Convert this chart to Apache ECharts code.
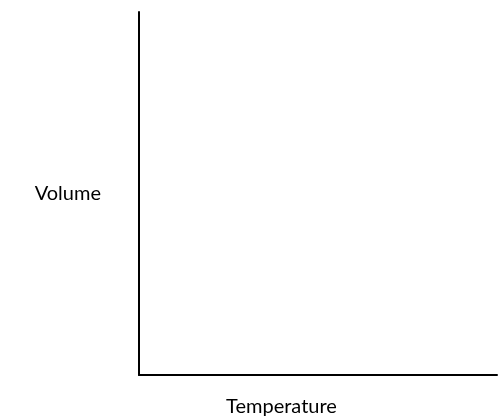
<!DOCTYPE html>
<html>
<head>
<meta charset="utf-8">
<script src="https://cdn.jsdelivr.net/npm/echarts@6/dist/echarts.min.js"></script>
<style>
    html, body {margin: 0; padding: 0; background: #fff;}
    #chart {width: 498px; height: 419px;}
</style>
</head>
<body>
<div id="chart"></div>
<script>
// blank sketch axes, no data plotted
const xName = 'Temperature';
const yName = 'Volume';
const points = [];

const axisStyle = {
    lineStyle: {color: '#000', width: 2}
};

let chart = echarts.init(document.getElementById('chart'));
chart.setOption({
    animation: false,
    grid: {left: 139, top: 12, right: 1, bottom: 44, containLabel: false, outerBoundsMode: 'none'},
    xAxis: {
        type: 'value',
        min: 0,
        max: 10,
        name: xName,
        nameLocation: 'middle',
        nameGap: 22,
        nameTextStyle: {
            color: '#000',
            fontSize: 20,
            fontFamily: 'Lato',
            padding: [0, 73, 0, 0]
        },
        axisLine: axisStyle,
        axisTick: {show: false},
        axisLabel: {show: false},
        splitLine: {show: false}
    },
    yAxis: {
        type: 'value',
        min: 0,
        max: 10,
        name: yName,
        nameLocation: 'middle',
        nameRotate: 0,
        nameGap: 38,
        nameTextStyle: {
            color: '#000',
            fontSize: 20,
            fontFamily: 'Lato',
            align: 'right'
        },
        axisLine: axisStyle,
        axisTick: {show: false},
        axisLabel: {show: false},
        splitLine: {show: false}
    },
    series: [{type: 'line', data: points}]
});
</script>
</body>
</html>
